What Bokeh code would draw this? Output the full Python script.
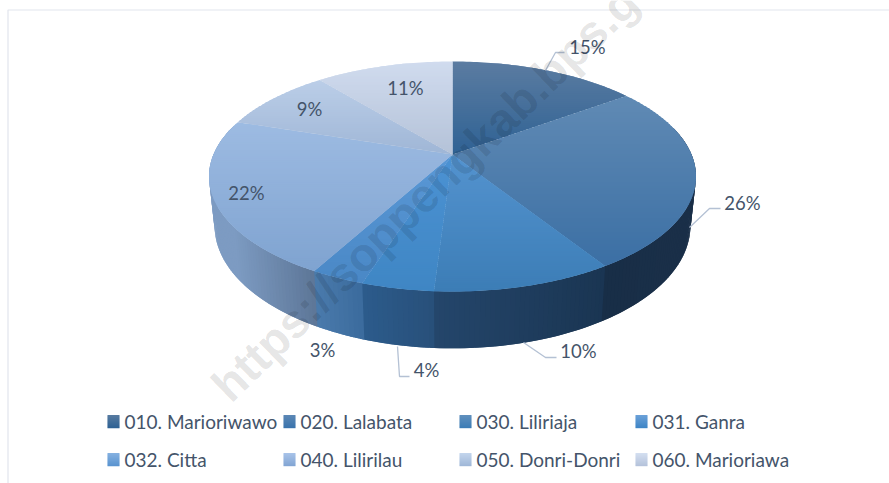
import math
from bokeh.plotting import figure
from bokeh.models import Range1d
from bokeh.core.properties import value
from bokeh.embed import file_html
from bokeh.resources import INLINE

categories = ["010. Marioriwawo", "020. Lalabata", "030. Liliriaja", "031. Ganra",
              "032. Citta", "040. Lilirilau", "050. Donri-Donri", "060. Marioriawa"]
shares = [15, 26, 10, 4, 3, 22, 9, 11]
top_light = ["#5b7ca1", "#608ab4", "#5493cf", "#4c92d3", "#5a98d6", "#9dbbe2", "#bbcee8", "#d0dbee"]
top_dark = ["#2f6294", "#3b6fa4", "#3c7db6", "#3f86c4", "#4a88c6", "#7fa3d0", "#9fb6d6", "#b4c2d8"]
side_left = ["#16304a", "#182e47", "#24466b", "#2c5b8b", "#4a7aab", "#7d9bc2", "#7d9bc2", "#7d9bc2"]
side_right = ["#16304a", "#1a2f48", "#1a3552", "#284f79", "#3a6a9c", "#5c7596", "#5c7596", "#5c7596"]
legend_light = ["#567aa0", "#5b87b5", "#5f8fbd", "#6aa0d8", "#84b0e0", "#a7c2e8", "#c2d4ec", "#d3def0"]
legend_dark = ["#2f6294", "#3a74ad", "#3c7db6", "#3f86c6", "#5a94d0", "#83a6d4", "#a0b8d8", "#b5c3db"]
label_text = ["15%", "26%", "10%", "4%", "3%", "22%", "9%", "11%"]

# layout (page pixels)
CX, CY, A, B, K = 452.0, 154.0, 239.0, 110.8, -0.191
CY2, B2, S2 = 202.0, 118.0, 0.977
label_x = [587, 742, 578, 426, 322, 246, 309, 405]
label_y = [46, 202, 350, 369, 349, 192, 108, 87]
leaders = [
    ([545, 555, 564], [70, 52, 52]),
    ([689, 709, 720], [227, 208, 208]),
    ([523, 545, 556], [342, 357, 357]),
    ([397, 399, 409], [346, 376, 376]),
]
legend_col = [107, 283, 459, 635]
legend_row = [421, 459]


def hex2rgb(h):
    return tuple(int(h[i:i + 2], 16) for i in (1, 3, 5))


def mix(c0, c1, t):
    t = max(0.0, min(1.0, t))
    a, b = hex2rgb(c0), hex2rgb(c1)
    return "#%02x%02x%02x" % tuple(round(a[i] + (b[i] - a[i]) * t) for i in range(3))


def top_pt(th):
    u, v = math.sin(th), -math.cos(th)
    d = 1 + K * v
    return CX + A * u / d, CY + B * v / d


def bot_pt(th):
    u, v = math.sin(th), -math.cos(th)
    d = 1 + K * v
    return CX + S2 * A * u / d, CY2 + B2 * v / d


def clip(poly, y0, keep_below):
    out = []
    n = len(poly)
    for i in range(n):
        p, q = poly[i], poly[(i + 1) % n]
        pin = p[1] >= y0 if keep_below else p[1] <= y0
        qin = q[1] >= y0 if keep_below else q[1] <= y0
        if pin:
            out.append(p)
        if pin != qin:
            t = (y0 - p[1]) / (q[1] - p[1])
            out.append((p[0] + (q[0] - p[0]) * t, y0))
    return out


p = figure(width=889, height=483, x_range=Range1d(0, 889), y_range=Range1d(483, 0),
           output_backend="svg", toolbar_location=None, min_border=0,
           background_fill_color="white", border_fill_color="white")
p.axis.visible = False
p.grid.visible = False
p.outline_line_color = None

# frame lines
p.line([7.5, 7.5, 889], [483, 9.5, 9.5], line_color="#e1e5ed", line_width=1.2)

total = sum(shares)
bounds = [0.0]
for s in shares:
    bounds.append(bounds[-1] + s / total * 2 * math.pi)

# side wall: strips painted in order, each overlapping the next
xs, ys, cs = [], [], []
for i in range(len(shares)):
    a0, a1 = bounds[i], bounds[i + 1]
    lo, hi = max(a0, math.radians(75)), min(a1, math.radians(285))
    if lo >= hi:
        continue
    n = max(2, int((hi - lo) / math.radians(1.0)))
    xa, xb = min(top_pt(lo)[0], top_pt(hi)[0]), max(top_pt(lo)[0], top_pt(hi)[0])
    for k in range(n):
        t0 = lo + (hi - lo) * k / n
        t1 = lo + (hi - lo) * (k + 1) / n + math.radians(1.0)
        pa, pb, pc, pd = top_pt(t0), top_pt(t1), bot_pt(t1), bot_pt(t0)
        xs.append([pa[0], pb[0], pc[0], pd[0]])
        ys.append([pa[1], pb[1], pc[1], pd[1]])
        cs.append(mix(side_left[i], side_right[i], ((pa[0] + pb[0]) / 2 - xa) / max(xb - xa, 1)))
p.patches(xs, ys, fill_color=cs, line_color=None)

# top face: horizontal bands painted top-down, each overlapping the next
xs, ys, cs = [], [], []
STEP = 2.0
for i in range(len(shares)):
    a0, a1 = bounds[i], bounds[i + 1]
    n = max(8, int((a1 - a0) / math.radians(1.0)))
    poly = [(CX, CY)] + [top_pt(a0 + (a1 - a0) * k / n) for k in range(n + 1)]
    y_min = min(q[1] for q in poly)
    y_max = max(q[1] for q in poly)
    y = y_min
    while y < y_max:
        band = clip(clip(poly, y, True), y + STEP + 1.5, False)
        if len(band) >= 3:
            xs.append([q[0] for q in band])
            ys.append([q[1] for q in band])
            cs.append(mix(top_light[i], top_dark[i], (y + STEP / 2 - y_min) / (y_max - y_min)))
        y += STEP
p.patches(xs, ys, fill_color=cs, line_color=None)

# leader lines
for lx, ly in leaders:
    p.line(lx, ly, line_color="#b4c1d4", line_width=1.3)

# data labels
p.text(label_x, label_y, text=label_text, text_font=value("Lato"), text_font_size="18.5px",
       text_color="#44546a", text_align="center", text_baseline="middle")

# legend
for i, name in enumerate(categories):
    lx = legend_col[i % 4]
    ly = legend_row[i // 4]
    for k in range(13):
        c = mix(legend_light[i], legend_dark[i], k / 12)
        p.quad(left=lx, right=lx + 12, top=ly - 6.5 + k, bottom=ly - 6.5 + k + 1.2,
               fill_color=c, line_color=None)
    p.text([lx + 17], [ly], text=[name], text_font=value("Lato"), text_font_size="19px",
           text_color="#44546a", text_align="left", text_baseline="middle")

# watermark (only the part the reference shows)
p.text([219], [392], text=["https://soppengkab.bps.g"], angle=0.77,
       text_font=value("Liberation Sans"), text_font_style="bold", text_font_size="47px",
       text_color="#000000", text_alpha=0.115, text_align="left", text_baseline="alphabetic")

open("out.html", "w").write(file_html(p, INLINE))
